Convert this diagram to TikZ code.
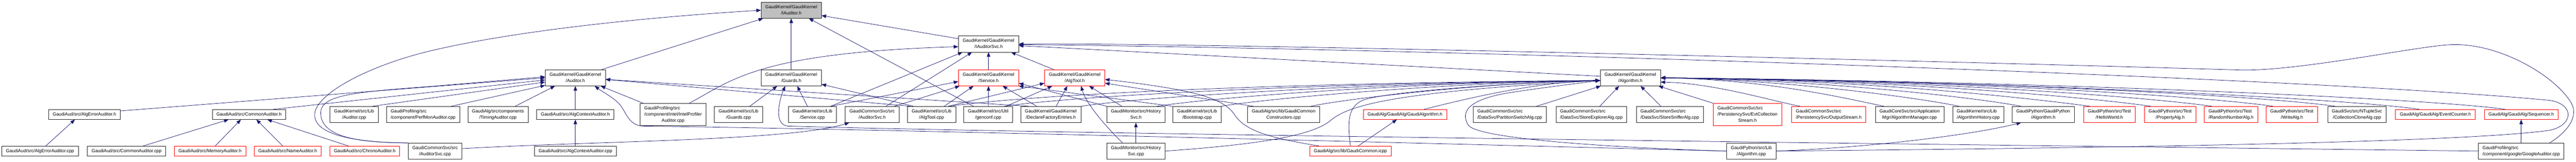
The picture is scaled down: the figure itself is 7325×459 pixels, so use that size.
\documentclass[tikz,border=0pt]{standalone}
\usepackage{fontspec}
\setmainfont{Liberation Sans}
\usetikzlibrary{arrows.meta,calc,backgrounds}
\definecolor{edgeblue}{HTML}{191970}
\definecolor{rootgray}{HTML}{BFBFBF}
\newcommand{\nf}{\fontsize{12.9}{17.5}\selectfont}
\newcommand{\Lone}[1]{\begin{tabular}{@{}c@{}}#1\end{tabular}}
\newcommand{\Ltwo}[2]{\begin{tabular}{@{}l@{}}#1\\\multicolumn{1}{@{}c@{}}{#2}\end{tabular}}
\newcommand{\Lthree}[3]{\begin{tabular}{@{}l@{}}#1\\#2\\\multicolumn{1}{@{}c@{}}{#3}\end{tabular}}
\begin{document}
\begin{tikzpicture}[x=1pt,y=-1pt,
  nbox/.style={draw=black!85, line width=1pt, fill=white, inner xsep=12pt, inner ysep=5.25pt, font=\nf},
  rbox/.style={nbox, draw=red},
  gbox/.style={nbox, fill=rootgray},
  conn/.style={draw=edgeblue, line width=1.1pt, -{Triangle[length=13pt,width=10pt]}}]
\path[use as bounding box] (0,0) rectangle (7325,459);
% ---- rank 0/1
\node[gbox] (N1) at (2250,29) {\Ltwo{GaudiKernel/GaudiKernel}{/IAuditor.h}};
\node[nbox] (N2) at (2811,125) {\Ltwo{GaudiKernel/GaudiKernel}{/IAuditorSvc.h}};
% ---- rank 2
\node[nbox] (N3) at (1636,221) {\Ltwo{GaudiKernel/GaudiKernel}{/Auditor.h}};
\node[nbox] (N4) at (2250,221) {\Ltwo{GaudiKernel/GaudiKernel}{/Guards.h}};
\node[rbox] (N5) at (2811,221) {\Ltwo{GaudiKernel/GaudiKernel}{/Service.h}};
\node[rbox] (N6) at (3056,221) {\Ltwo{GaudiKernel/GaudiKernel}{/AlgTool.h}};
\node[nbox] (N7) at (4636,221) {\Ltwo{GaudiKernel/GaudiKernel}{/Algorithm.h}};
% ---- rank 3
\node[nbox] (A1) at (240,325) {\Lone{GaudiAud/src/AlgErrorAuditor.h}};
\node[nbox] (A2) at (708,325) {\Lone{GaudiAud/src/CommonAuditor.h}};
\node[nbox] (A3) at (1007,325) {\Ltwo{GaudiKernel/src/Lib}{/Auditor.cpp}};
\node[nbox] (A4) at (1203,325) {\Ltwo{GaudiProfiling/src}{/component/PerfMonAuditor.cpp}};
\node[nbox] (A5) at (1416,325) {\Ltwo{GaudiAlg/src/components}{/TimingAuditor.cpp}};
\node[nbox] (A6) at (1636,325) {\Lone{GaudiAud/src/AlgContextAuditor.h}};
\node[nbox] (A7) at (1914,325) {\Lthree{GaudiProfiling/src}{/component/intel/IntelProfiler}{Auditor.cpp}};
\node[nbox] (A8) at (2100,325) {\Ltwo{GaudiKernel/src/Lib}{/Guards.cpp}};
\node[nbox] (A9) at (2310,325) {\Ltwo{GaudiKernel/src/Lib}{/Service.cpp}};
\node[nbox] (A10) at (2480,325) {\Ltwo{GaudiCommonSvc/src}{/AuditorSvc.h}};
\node[nbox] (A11) at (2649,325) {\Ltwo{GaudiKernel/src/Lib}{/AlgTool.cpp}};
\node[nbox] (A12) at (2810,325) {\Ltwo{GaudiKernel/src/Util}{/genconf.cpp}};
\node[nbox] (A13) at (2988,325) {\Ltwo{GaudiKernel/GaudiKernel}{/DeclareFactoryEntries.h}};
\node[nbox] (A14) at (3230,325) {\Ltwo{GaudiMonitor/src/History}{Svc.h}};
\node[nbox] (A15) at (3404,325) {\Ltwo{GaudiKernel/src/Lib}{/Bootstrap.cpp}};
\node[nbox] (A16) at (3650,325) {\Ltwo{GaudiAlg/src/lib/GaudiCommon}{Constructors.cpp}};
\node[rbox] (A17) at (3995,325) {\Lone{GaudiAlg/GaudiAlg/GaudiAlgorithm.h}};
\node[nbox] (A18) at (4293,325) {\Ltwo{GaudiCommonSvc/src}{/DataSvc/PartitionSwitchAlg.cpp}};
\node[nbox] (A19) at (4525,325) {\Ltwo{GaudiCommonSvc/src}{/DataSvc/StoreExplorerAlg.cpp}};
\node[nbox] (A20) at (4748,325) {\Ltwo{GaudiCommonSvc/src}{/DataSvc/StoreSnifferAlg.cpp}};
\node[rbox] (A21) at (4969,325) {\Lthree{GaudiCommonSvc/src}{/PersistencySvc/EvtCollection}{Stream.h}};
\node[rbox] (A22) at (5200,325) {\Ltwo{GaudiCommonSvc/src}{/PersistencySvc/OutputStream.h}};
\node[nbox] (A23) at (5430,325) {\Ltwo{GaudiCoreSvc/src/Application}{Mgr/AlgorithmManager.cpp}};
\node[nbox] (A24) at (5625,325) {\Ltwo{GaudiKernel/src/Lib}{/AlgorithmHistory.cpp}};
\node[nbox] (A25) at (5810,325) {\Ltwo{GaudiPython/GaudiPython}{/Algorithm.h}};
\node[rbox] (A26) at (5998,325) {\Ltwo{GaudiPython/src/Test}{/HelloWorld.h}};
\node[rbox] (A27) at (6171,325) {\Ltwo{GaudiPython/src/Test}{/PropertyAlg.h}};
\node[rbox] (A28) at (6344,325) {\Ltwo{GaudiPython/src/Test}{/RandomNumberAlg.h}};
\node[rbox] (A29) at (6517,325) {\Ltwo{GaudiPython/src/Test}{/WriteAlg.h}};
\node[nbox] (A30) at (6702,325) {\Ltwo{GaudiSvc/src/NTupleSvc}{/CollectionCloneAlg.cpp}};
\node[rbox] (A31) at (6925,325) {\Lone{GaudiAlg/GaudiAlg/EventCounter.h}};
\node[rbox] (A32) at (7169,325) {\Lone{GaudiAlg/GaudiAlg/Sequencer.h}};
% ---- rank 4
\node[nbox] (B1) at (114,429) {\Lone{GaudiAud/src/AlgErrorAuditor.cpp}};
\node[nbox] (B2) at (360,429) {\Lone{GaudiAud/src/CommonAuditor.cpp}};
\node[rbox] (B3) at (597,429) {\Lone{GaudiAud/src/MemoryAuditor.h}};
\node[rbox] (B4) at (818,429) {\Lone{GaudiAud/src/NameAuditor.h}};
\node[rbox] (B5) at (1037,429) {\Lone{GaudiAud/src/ChronoAuditor.h}};
\node[nbox] (B6) at (1237,429) {\Ltwo{GaudiCommonSvc/src}{/AuditorSvc.cpp}};
\node[nbox] (B7) at (1636,429) {\Lone{GaudiAud/src/AlgContextAuditor.cpp}};
\node[nbox] (B8) at (3230,429) {\Ltwo{GaudiMonitor/src/History}{Svc.cpp}};
\node[rbox] (B9) at (3840,429) {\Lone{GaudiAlg/src/lib/GaudiCommon.icpp}};
\node[nbox] (B10) at (4980,429) {\Ltwo{GaudiPython/src/Lib}{/Algorithm.cpp}};
\node[nbox] (B11) at (7169,429) {\Ltwo{GaudiProfiling/src}{/component/google/GoogleAuditor.cpp}};

\begin{pgfonlayer}{background}
\fill[white] (0,0) rectangle (7325,459);
% ---- into IAuditor.h
\draw[conn] (B6.north west) .. controls (1000,405) and (890,380) .. (895,323) .. controls (900,265) and (1050,185) .. (1230,143) .. controls (1500,80) and (1900,45) .. (N1.west);
\draw[conn] ($(N3.north)+(74,0)$) -- ($(N1.south)+(-80,0)$);
\draw[conn] (N4.north) -- (N1.south);
\draw[conn] ($(A12.north)+(-42,0)$) -- ($(N1.south)+(50,0)$);
\draw[conn] (N2.170) -- (N1.-10);
% ---- into IAuditorSvc.h
\draw[conn] ($(A7.north)+(46,0)$) .. controls (2080,230) and (2150,150) .. (N2.-175);
\draw[conn] ($(A9.north)+(52,0)$) -- ($(N2.south)+(-74,0)$);
\draw[conn] ($(A10.north)+(39,0)$) -- ($(N2.south)+(-47,0)$);
\draw[conn] (N5.north) -- (N2.south);
\draw[conn] ($(N6.north)+(-59,0)$) -- ($(N2.south)+(64,0)$);
\draw[conn] (N7.177) -- (N2.-3);
\draw[conn] ($(B11.north)+(81,0)$) .. controls (7300,375) and (7335,330) .. (7310,290) .. controls (7260,210) and (7100,120) .. (6967,127) .. controls (6867,132) and (6550,200) .. (6377,199) .. controls (6100,190) and (3500,120) .. (N2.east);
\draw[conn] (B10.east) .. controls (6000,420) and (7000,405) .. (7250,370) .. controls (7320,355) and (7320,295) .. (7250,285) .. controls (6600,222) and (4200,140) .. (N2.-1);
% ---- into Auditor.h
\draw[conn] ($(A1.east)+(0,-10)$) -- (N3.west);
\draw[conn] ($(A2.north)+(68,0)$) -- (N3.-176);
\draw[conn] ($(A3.north)+(52,0)$) -- (N3.-172);
\draw[conn] ($(A4.north)+(80,0)$) -- (N3.-166);
\draw[conn] ($(A5.north)+(49,0)$) -- ($(N3.south)+(-58,0)$);
\draw[conn] (A6.north) -- (N3.south);
\draw[conn] ($(A7.north west)+(9,0)$) -- ($(N3.south)+(72,0)$);
\draw[conn] (B6.north west) .. controls (1020,405) and (915,390) .. (912,323) .. controls (910,270) and (1000,262) .. (1230,245) -- (N3.178);
\draw[conn] (B10.west) .. controls (3800,400) and (2400,365) .. (1830,358) .. controls (1790,358) and (1780,320) .. (1765,300) .. controls (1750,280) and (1715,262) .. ($(N3.south)+(55,0)$);
\draw[conn] ($(A11.north west)+(10,0)$) -- (N3.-3);
\draw[conn] ($(A13.north)+(-62,0)$) -- (N3.-3);
% ---- into Guards.h
\draw[conn] ($(A8.north)+(32,0)$) -- ($(N4.south)+(-40,0)$);
\draw[conn] ($(A9.north)+(-14,0)$) -- ($(N4.south)+(17,0)$);
\draw[conn] ($(A11.north)+(-51,0)$) -- (N4.-12);
\draw[conn] (B11.west) .. controls (5500,410) and (3000,380) .. (2240,358) .. controls (2215,355) and (2212,330) .. (2215,305) .. controls (2218,280) and (2225,262) .. ($(N4.south)+(-17,0)$);
% ---- into Service.h
\draw[conn] ($(A9.north)+(52,0)$) -- (N5.-173);
\draw[conn] ($(A10.north)+(63,0)$) -- ($(N5.south west)+(4,0)$);
\draw[conn] ($(A11.north)+(36,0)$) -- ($(N5.south)+(-43,0)$);
\draw[conn] (A12.north) -- (N5.south);
\draw[conn] ($(A13.north)+(-40,0)$) -- ($(N5.south)+(40,0)$);
\draw[conn] (A14.north west) -- (N5.-10);
\draw[conn] (A15.north west) -- (N5.south east);
% ---- into AlgTool.h
\draw[conn] ($(A11.north)+(48,0)$) -- (N6.-170);
\draw[conn] ($(A12.north)+(51,0)$) -- ($(N6.south)+(-64,0)$);
\draw[conn] ($(A13.north)+(15,0)$) -- ($(N6.south)+(-21,0)$);
\draw[conn] ($(A14.north)+(-40,0)$) -- ($(N6.south)+(41,0)$);
\draw[conn] ($(B8.north)+(-38,0)$) .. controls (3160,375) and (3090,300) .. ($(N6.south)+(18,0)$);
\draw[conn] ($(A16.north)+(-86,0)$) -- (N6.-10);
\draw[conn] ($(B9.north)+(-89,0)$) .. controls (3600,390) and (3540,370) .. (3510,325) .. controls (3480,280) and (3400,255) .. (N6.-3);
% ---- into Algorithm.h (left)
\draw[conn] ($(A11.north)+(48,0)$) .. controls +(300,-40) and +(-800,6) .. (N7.-175);
\draw[conn] ($(A12.north)+(45,0)$) .. controls +(250,-35) and +(-700,6) .. (N7.-175);
\draw[conn] (A13.north east) .. controls +(200,-30) and +(-600,6) .. (N7.-175);
\draw[conn] ($(A14.north)+(59,0)$) .. controls +(200,-30) and +(-500,5) .. (N7.-175);
\draw[conn] ($(A15.north)+(68,0)$) .. controls +(150,-25) and +(-400,5) .. (N7.-175);
\draw[conn] ($(A16.north)+(77,0)$) .. controls +(120,-25) and +(-300,5) .. (N7.-175);
\draw[conn] ($(A17.north)+(54,0)$) .. controls +(80,-20) and +(-200,5) .. (N7.-175);
\draw[conn] (B8.east) .. controls (3550,412) and (3720,390) .. (3780,345) .. controls (3830,300) and (3950,262) .. (N7.-175);
\draw[conn] (B9.north) .. controls (3832,350) and (3830,300) .. (3880,283) .. controls (3950,260) and (4300,235) .. (N7.-175);
\draw[conn] (B10.west) .. controls (4600,420) and (4200,395) .. (4175,355) .. controls (4150,315) and (4180,280) .. (4300,262) .. controls (4400,247) and (4500,235) .. (N7.-175);
% ---- into Algorithm.h (below)
\draw[conn] ($(A18.north)+(76,0)$) -- ($(N7.south west)+(2,0)$);
\draw[conn] ($(A19.north)+(24,0)$) -- ($(N7.south)+(-32,0)$);
\draw[conn] ($(A20.north)+(-25,0)$) -- ($(N7.south)+(29,0)$);
\draw[conn] (A21.north west) -- ($(N7.south east)+(-6,0)$);
% ---- into Algorithm.h (right)
\draw[conn] ($(A22.north)+(-81,0)$) .. controls +(-80,-15) and +(150,3) .. (N7.-8);
\draw[conn] ($(A23.north)+(-73,0)$) .. controls +(-120,-25) and +(300,5) .. (N7.east);
\draw[conn] ($(A24.north)+(-54,0)$) .. controls +(-120,-25) and +(350,5) .. (N7.east);
\draw[conn] ($(A25.north)+(-63,0)$) .. controls +(-130,-25) and +(450,5) .. (N7.east);
\draw[conn] ($(A26.north)+(-55,0)$) .. controls +(-150,-20) and +(600,5) .. (N7.east);
\draw[conn] ($(A27.north)+(-55,0)$) .. controls +(-150,-22) and +(700,6) .. (N7.east);
\draw[conn] ($(A28.north)+(-54,0)$) .. controls +(-170,-24) and +(800,7) .. (N7.east);
\draw[conn] ($(A29.north)+(-53,0)$) .. controls +(-180,-26) and +(900,8) .. (N7.east);
\draw[conn] ($(A30.north)+(-62,0)$) .. controls +(-190,-28) and +(950,9) .. (N7.east);
\draw[conn] ($(A31.north)+(-45,0)$) .. controls +(-200,-30) and +(1000,10) .. (N7.east);
\draw[conn] ($(A32.north)+(-45,0)$) .. controls +(-200,-30) and +(1100,10) .. (N7.east);
% ---- bottom rank into rank 3
\draw[conn] ($(B1.north)+(16,0)$) -- ($(A1.south)+(-27,0)$);
\draw[conn] ($(B2.north)+(47,0)$) -- ($(A2.south)+(-58,0)$);
\draw[conn] ($(B3.north)+(15,0)$) -- ($(A2.south)+(-23,0)$);
\draw[conn] ($(B4.north)+(-14,0)$) -- ($(A2.south)+(21,0)$);
\draw[conn] ($(B5.north)+(-46,0)$) -- ($(A2.south)+(52,0)$);
\draw[conn] (B7.north) -- (A6.south);
\draw[conn] (B8.north) -- (A14.south);
\draw[conn] ($(B9.north)+(22,0)$) -- ($(A17.south)+(-23,0)$);
\draw[conn] (B10.east) .. controls (5300,420) and (5600,385) .. ($(A25.south)+(-63,0)$);
\draw[conn] ($(B6.east)+(0,-7)$) .. controls (1700,400) and (2250,400) .. ($(A10.south west)+(12,0)$);
\draw[conn] (B11.north) -- (A32.south);
\end{pgfonlayer}
\end{tikzpicture}
\end{document}
